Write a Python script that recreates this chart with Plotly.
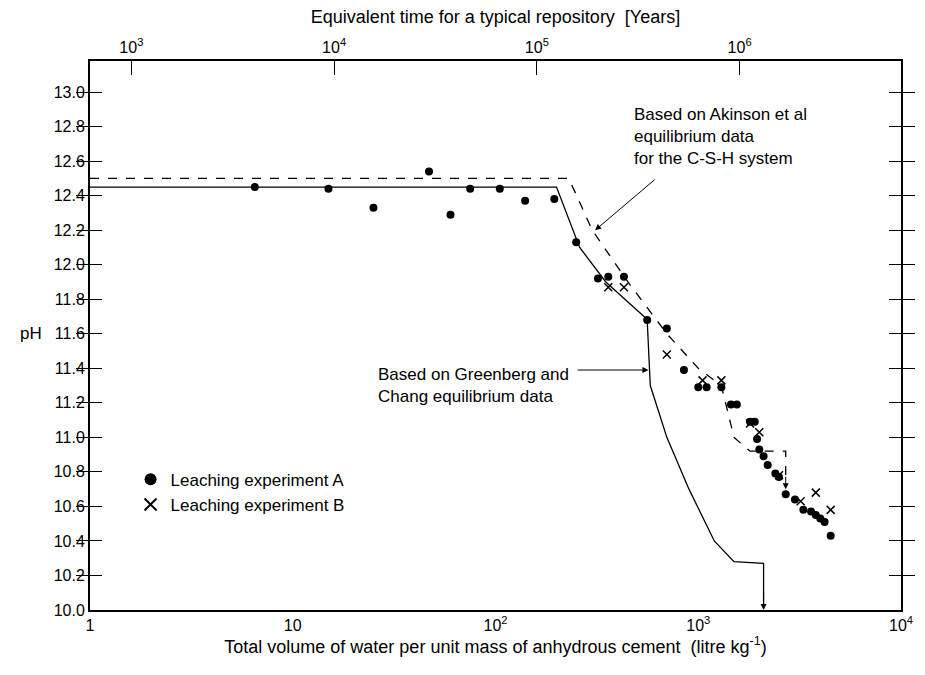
import plotly.graph_objects as go
import numpy as np

# Leaching experiment A (filled circles)
a_vol = [6.5, 15, 25, 47, 60, 75, 105, 140, 195, 250, 320, 360, 430, 560, 700, 850, 1000, 1100, 1300, 1450, 1550, 1800, 1900, 1950, 2000, 2100, 2200, 2400, 2500, 2700, 3000, 3300, 3600, 3800, 4000, 4200, 4500]
a_ph = [12.45, 12.44, 12.33, 12.54, 12.29, 12.44, 12.44, 12.37, 12.38, 12.13, 11.92, 11.93, 11.93, 11.68, 11.63, 11.39, 11.29, 11.29, 11.29, 11.19, 11.19, 11.09, 11.09, 10.99, 10.93, 10.89, 10.84, 10.79, 10.77, 10.67, 10.64, 10.58, 10.57, 10.55, 10.53, 10.51, 10.43]
# Leaching experiment B (crosses)
b_vol = [360, 430, 700, 1050, 1300, 1800, 2000, 2500, 3200, 3800, 4500]
b_ph = [11.87, 11.87, 11.48, 11.33, 11.33, 11.08, 11.03, 10.78, 10.63, 10.68, 10.58]

# Greenberg and Chang model (solid)
g_vol = [1, 200, 260, 350, 540, 560, 580, 700, 900, 1200, 1500, 2100, 2100]
g_ph = [12.45, 12.45, 12.1, 11.9, 11.7, 11.68, 11.3, 11.0, 10.7, 10.4, 10.28, 10.27, 10.02]
# Atkinson et al model (dashed)
k_vol = [1, 230, 300, 450, 700, 1000, 1300, 1500, 1800, 2200, 2700, 2700]
k_ph = [12.5, 12.5, 12.2, 11.9, 11.6, 11.4, 11.3, 11.0, 10.92, 10.92, 10.92, 10.72]

yticks = [round(10.0 + 0.2 * i, 1) for i in range(16)]
xticks = [1, 10, 100, 1000, 10000]
xlabels = ["1", "10", "10<sup>2</sup>", "10<sup>3</sup>", "10<sup>4</sup>"]
top_years = [1e3, 1e4, 1e5, 1e6]
top_labels = ["10<sup>3</sup>", "10<sup>4</sup>", "10<sup>5</sup>", "10<sup>6</sup>"]
years_per_litre = 625.0

fig = go.Figure()
fig.add_trace(go.Scatter(x=g_vol, y=g_ph, mode="lines", line=dict(color="black", width=1.3), showlegend=False))
fig.add_trace(go.Scatter(x=k_vol, y=k_ph, mode="lines", line=dict(color="black", width=1.3, dash="dash"), showlegend=False))
fig.add_trace(go.Scatter(x=a_vol, y=a_ph, mode="markers", name="Leaching experiment A",
                         marker=dict(symbol="circle", size=8, color="black")))
fig.add_trace(go.Scatter(x=b_vol, y=b_ph, mode="markers", name="Leaching experiment B",
                         marker=dict(symbol="x-thin", size=8, line=dict(color="black", width=1.5))))
# invisible trace for the top (years) axis
fig.add_trace(go.Scatter(x=[1 * years_per_litre, 1e4 * years_per_litre], y=[10, 10], xaxis="x2",
                         mode="lines", line=dict(width=0), showlegend=False, hoverinfo="skip"))

font = dict(family="Liberation Sans, Arial, sans-serif", size=17, color="black")
fig.update_layout(
    width=925, height=675, margin=dict(l=90, r=13, t=61, b=65),
    paper_bgcolor="white", plot_bgcolor="white", font=font,
    xaxis=dict(type="log", range=[0, 4], tickvals=xticks, ticktext=xlabels,
               showline=True, linecolor="black", linewidth=2, ticks="", showgrid=False, zeroline=False,
               tickfont=dict(size=16),
               title=dict(text="Total volume of water per unit mass of anhydrous cement  (litre kg<sup>-1</sup>)",
                          standoff=6, font=dict(size=18))),
    xaxis2=dict(type="log", overlaying="x", side="top",
                range=[np.log10(years_per_litre), np.log10(1e4 * years_per_litre)],
                tickvals=top_years, ticktext=top_labels, ticks="inside", ticklen=14, tickcolor="black",
                tickwidth=1.2, tickfont=dict(size=16),
                showline=True, linecolor="black", linewidth=2, showgrid=False, zeroline=False,
                title=dict(text="Equivalent time for a typical repository  [Years]", standoff=8, font=dict(size=18))),
    yaxis=dict(range=[10.0, 13.18], tickvals=yticks, tickformat=".1f", ticks="inside", ticklen=12,
               tickcolor="black", tickwidth=1.2, showline=True, linecolor="black", linewidth=2, mirror="allticks",
               showgrid=False, zeroline=False, tickfont=dict(size=16)),
    legend=dict(x=0.05, y=0.27, yanchor="top", bgcolor="rgba(0,0,0,0)", font=dict(size=17),
                itemsizing="constant", tracegroupgap=2),
)
fig.add_annotation(x=0.0, y=11.6, xref="paper", yref="y", xanchor="right", xshift=-46,
                   text="pH", showarrow=False, font=dict(size=17))
fig.add_annotation(x=np.log10(310), y=12.2, ax=np.log10(620), ay=12.5, xref="x", yref="y", axref="x", ayref="y",
                   text="", showarrow=True, arrowhead=2, arrowwidth=1, arrowsize=1.2, arrowcolor="black")
fig.add_annotation(x=np.log10(470), y=12.55, xref="x", yref="y", xanchor="left", yanchor="bottom", align="left",
                   text="Based on Akinson et al<br>equilibrium data<br>for the C-S-H system", showarrow=False)
fig.add_annotation(x=np.log10(568), y=11.39, ax=np.log10(250), ay=11.39, xref="x", yref="y", axref="x", ayref="y",
                   text="", showarrow=True, arrowhead=2, arrowwidth=1, arrowsize=1.2, arrowcolor="black")
fig.add_annotation(x=np.log10(235), y=11.3, xref="x", yref="y", xanchor="right", align="left",
                   text="Based on Greenberg and<br>Chang equilibrium data", showarrow=False)
# arrowheads at the ends of the vertical drops
fig.add_annotation(x=np.log10(2100), y=10.0, ax=0, ay=-20, xref="x", yref="y",
                   text="", showarrow=True, arrowhead=2, arrowwidth=1, arrowsize=1.2, arrowcolor="black")
fig.add_annotation(x=np.log10(2700), y=10.7, ax=0, ay=-14, xref="x", yref="y",
                   text="", showarrow=True, arrowhead=2, arrowwidth=1, arrowsize=1.2, arrowcolor="black")
fig.write_html("out.html")
